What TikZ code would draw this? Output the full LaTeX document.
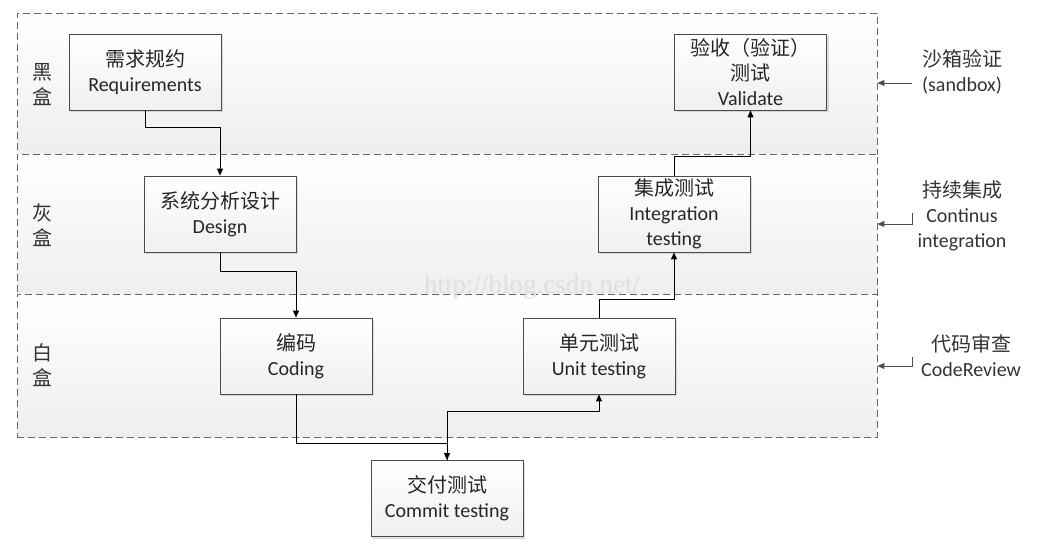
\documentclass[tikz,border=0pt]{standalone}
\usepackage{fontspec}
\setmainfont{Carlito}
\newfontfamily\cjk{Noto Sans CJK SC}
\newfontfamily\wmfont{Liberation Serif}
\usetikzlibrary{arrows.meta,shadows}
\begin{document}
\begin{tikzpicture}[x=1pt,y=-1pt,
  band/.style={draw=black!60, dash pattern=on 7pt off 4pt, line width=0.8pt,
    top color=white, bottom color=gray!13, minimum width=860pt, inner sep=0pt},
  box/.style={draw=black!70, line width=0.8pt, top color=white, bottom color=gray!12,
    minimum width=152pt, minimum height=76pt, inner sep=2pt, align=center,
    font=\fontsize{20}{25}\selectfont, text=black!85,
    drop shadow={shadow xshift=2pt, shadow yshift=-2pt, opacity=0.25}},
  lbl/.style={align=center, font=\fontsize{20}{25}\selectfont, text=black!80, inner sep=0pt},
  arr/.style={draw=black, line width=0.9pt, -{Triangle[length=7pt,width=6pt]}},
  sarr/.style={draw=black!70, line width=0.9pt, -{Triangle[length=7pt,width=6pt]}}
]
\useasboundingbox (0,0) rectangle (1060,555);
% bands
\node[band, minimum height=141pt] (top) at (447,83.5) {};
\node[band, minimum height=140pt] (mid) at (447,224) {};
\node[band, minimum height=143pt] (bot) at (447,365.5) {};
% watermark
\node[font=\wmfont\fontsize{27}{27}\selectfont, text=gray!25, inner sep=0pt] (wm) at (532,287) {http://blog.csdn.net/};
% left labels
\node[lbl] (lb1) at (42,85) {\cjk 黑\\\cjk 盒};
\node[lbl] (lb2) at (42,225) {\cjk 灰\\\cjk 盒};
\node[lbl] (lb3) at (42,365) {\cjk 白\\\cjk 盒};
% boxes
\node[box] (req) at (145,72) {{\cjk 需求规约}\\Requirements};
\node[box] (des) at (220,214) {{\cjk 系统分析设计}\\Design};
\node[box] (cod) at (296,356) {{\cjk 编码}\\Coding};
\node[box] (unit) at (599,356) {{\cjk 单元测试}\\Unit testing};
\node[box] (com) at (447,498.5) {{\cjk 交付测试}\\Commit testing};
\node[box] (int) at (674,214) {{\cjk 集成测试}\\Integration\\testing};
\node[box] (val) at (750.5,72) {{\cjk 验收（验证）}\\{\cjk 测试}\\Validate};
% connectors
\draw[arr] (req.south) -- ++(0,17) -| (des.north);
\draw[arr] (des.south) -- ++(0,19) -| (cod.north);
\draw[arr] (cod.south) -- ++(0,49) -| (com.north);
\draw[arr] (com.north) -- ++(0,-49) -| (unit.south);
\draw[arr] (unit.north) -- ++(0,-18) -| (int.south);
\draw[arr] (int.north) -- ++(0,-19) -| (val.south);
% right labels
\node[lbl] (r1) at (962,72) {{\cjk 沙箱验证}\\(sandbox)};
\node[lbl] (r2) at (962,216) {{\cjk 持续集成}\\Continus\\integration};
\node[lbl] (r3) at (971,356) {{\cjk 代码审查}\\CodeReview};
\coordinate (s1) at (912,83);
\coordinate (c1) at (912,213);
\coordinate (c2) at (912,224);
\coordinate (d1) at (912,357);
\coordinate (d2) at (912,366);
\draw[sarr] (s1) -- (s1 -| top.east);
\draw[sarr] (c1) -- (c2) -- (c2 -| mid.east);
\draw[sarr] (d1) -- (d2) -- (d2 -| bot.east);
\end{tikzpicture}
\end{document}
